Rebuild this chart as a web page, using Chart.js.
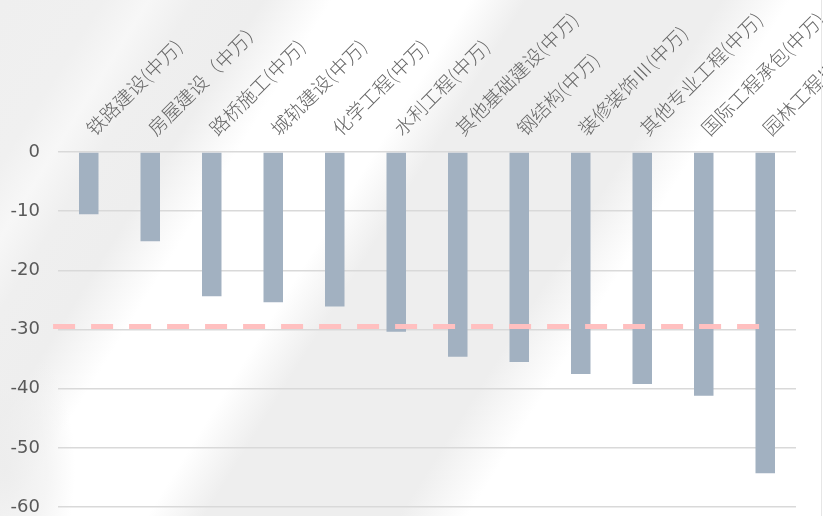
<!DOCTYPE html>
<html>
<head>
<meta charset="utf-8">
<script src="https://cdn.jsdelivr.net/npm/chart.js@4.4.0/dist/chart.umd.min.js"></script>
<style>
  html, body { margin: 0; padding: 0; }
  body {
    width: 823px; height: 516px; overflow: hidden; position: relative;
    background:
      radial-gradient(ellipse 70px 140px at 5px 470px, rgba(236,236,236,0.9) 0%, rgba(238,238,238,0.6) 60%, rgba(255,255,255,0) 100%),
      linear-gradient(122deg,
      #efefef 0%, #f0f0f0 9%, #f7f7f7 13%, #efefef 17%, #eeeeee 23%,
      #ffffff 29%, #ffffff 41%, #eeeeee 46%, #eeeeee 63%,
      #ffffff 69%, #ffffff 100%);
  }
  #wrap { position: absolute; left: 0; top: 0; width: 823px; height: 516px; }
  #edge { position: absolute; left: 821px; top: 0; width: 1px; height: 516px; background: #e6e6e6; }
</style>
</head>
<body>
<div id="wrap"><canvas id="c" width="823" height="516"></canvas></div>
<div id="edge"></div>
<script>
// ---- data ----
const categories = [
  '铁路建设(中万)', '房屋建设（中万）', '路桥施工(中万)', '城轨建设(中万)',
  '化学工程(中万)', '水利工程(中万)', '其他基础建设(中万)', '钢结构(中万)',
  '装修装饰Ⅲ(中万)', '其他专业工程(中万)', '国际工程承包(中万)', '园林工程Ⅲ(中万)'
];
const values = [-10.5, -15.1, -24.4, -25.4, -26.1, -30.4, -34.6, -35.5, -37.5, -39.2, -41.2, -54.3];
const refLineValue = -29.5;
const refLineSpan = [-0.08, 11.5];   // in category units
const yTicks = [0, -10, -20, -30, -40, -50, -60];

const refLineData = refLineSpan.map(x => ({ x: x, y: refLineValue }));

new Chart(document.getElementById('c'), {
  data: {
    labels: categories,
    datasets: [
      {
        type: 'bar',
        data: values,
        xAxisID: 'x',
        yAxisID: 'y',
        grouped: false,
        backgroundColor: '#a2b1c1',
        borderWidth: 0,
        barPercentage: 0.317,
        categoryPercentage: 1.0,
        order: 1
      },
      {
        type: 'line',
        data: refLineData,
        xAxisID: 'x2',
        yAxisID: 'y',
        borderColor: '#ffc0c0',
        borderWidth: 5,
        borderDash: [22, 16],
        borderCapStyle: 'butt',
        pointRadius: 0,
        fill: false,
        clip: false,
        order: 0
      }
    ]
  },
  options: {
    responsive: false,
    animation: false,
    devicePixelRatio: 1,
    layout: { padding: { top: 0, left: 0, right: 27, bottom: 9 } },
    plugins: { legend: { display: false }, tooltip: { enabled: false } },
    scales: {
      x: {
        type: 'category',
        position: 'top',
        offset: true,
        grid: { display: false },
        border: { display: false },
        ticks: {
          autoSkip: false,
          minRotation: 45,
          maxRotation: 45,
          padding: 4,
          labelOffset: 17,
          color: '#666666',
          font: { family: '"Noto Sans CJK SC", sans-serif', size: 19, weight: '300' }
        },
        afterFit: (s) => { s.height = 152; s.paddingLeft = 0; s.paddingRight = 0; }
      },
      x2: {
        type: 'linear',
        display: false,
        min: 0,
        max: categories.length
      },
      y: {
        type: 'linear',
        min: Math.min(...yTicks),
        max: Math.max(...yTicks),
        afterBuildTicks: (s) => { s.ticks = yTicks.map(v => ({ value: v })); },
        grid: { color: '#d9d9d9', lineWidth: 1.6, drawTicks: false },
        border: { display: false },
        ticks: {
          padding: 18,
          color: '#595959',
          font: { family: '"DejaVu Sans", sans-serif', size: 18 }
        },
        afterFit: (s) => { s.width = 58; s.paddingTop = 0; s.paddingBottom = 0; }
      }
    }
  }
});
</script>
</body>
</html>
